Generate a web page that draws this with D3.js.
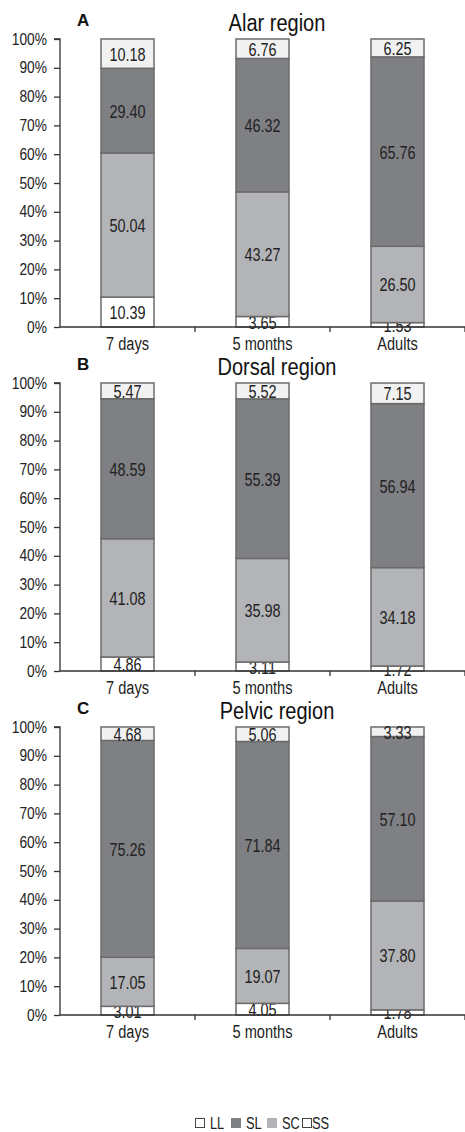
<!DOCTYPE html>
<html lang="en">
<head>
<meta charset="utf-8">
<title>Stacked bars by region</title>
<script src="https://d3js.org/d3.v7.min.js"></script>
<style>
  body { margin: 0; background: #fff; }
  svg { font-family: "Liberation Sans", Arial, sans-serif; }
  .tick text { font-size: 16px; fill: #222; }
  .val { font-size: 19px; fill: #222; text-anchor: middle; }
</style>
</head>
<body>
<svg id="chart" width="465" height="1132"></svg>
<script>
// categories and series
const ages = ["7 days", "5 months", "Adults"];
const keys = ["LL", "SC", "SL", "SS"]; // bottom to top
const panels = ["A", "B", "C"];
const titles = ["Alar region", "Dorsal region", "Pelvic region"];

// values per panel: [LL, SC, SL, SS] for each age
const alar = [[10.39, 50.04, 29.40, 10.18], [3.65, 43.27, 46.32, 6.76], [1.53, 26.50, 65.76, 6.25]];
const dorsal = [[4.86, 41.08, 48.59, 5.47], [3.11, 35.98, 55.39, 5.52], [1.72, 34.18, 56.94, 7.15]];
const pelvic = [[3.01, 17.05, 75.26, 4.68], [4.05, 19.07, 71.84, 5.06], [1.78, 37.80, 57.10, 3.33]];
const regions = [alar, dorsal, pelvic];

const yTicks = [0, 10, 20, 30, 40, 50, 60, 70, 80, 90, 100];

const fill = { LL: "#ffffff", SC: "#b3b4b7", SL: "#7f8083", SS: "#f1f1f1" };
const legendOrder = ["LL", "SL", "SC", "SS"];

const svg = d3.select("#chart");
const left = 60, right = 465, plotH = 288;

const x = d3.scaleBand().domain(ages).range([left, right]).paddingInner(0).paddingOuter(0);
const barW = 53;

// the original type is a narrow face: squeeze glyphs horizontally
function squeeze(sel, k) {
  sel.each(function() {
    const w = this.getComputedTextLength();
    d3.select(this).attr("textLength", w * k).attr("lengthAdjust", "spacingAndGlyphs");
  });
}

regions.forEach((data, i) => {
  const top = 39 + i * 344;
  const y = d3.scaleLinear().domain([0, 100]).range([top + plotH, top]);
  const g = svg.append("g");

  // title + panel letter
  g.append("text").attr("x", 277).attr("y", top - 8)
    .attr("text-anchor", "middle").style("font-size", "23px").style("fill", "#111")
    .text(titles[i]).call(squeeze, 0.87);
  g.append("text").attr("x", 77).attr("y", top - 13)
    .style("font-size", "17px").style("font-weight", "bold").style("fill", "#111")
    .text(panels[i]);

  // stack
  const rows = data.map((v, j) => {
    const o = { age: ages[j] };
    keys.forEach((k, n) => o[k] = v[n]);
    return o;
  });
  const series = d3.stack().keys(keys)(rows);

  series.forEach(s => {
    g.selectAll(null).data(s).enter().append("rect")
      .attr("x", d => x(d.data.age) + x.bandwidth() / 2 - barW / 2)
      .attr("y", d => y(Math.min(d[1], 100)))
      .attr("width", barW)
      .attr("height", d => y(d[0]) - y(Math.min(d[1], 100)))
      .style("fill", fill[s.key])
      .style("stroke", "#6b6b6b")
      .style("stroke-width", 1.5);

    g.selectAll(null).data(s).enter().append("text")
      .attr("class", "val")
      .attr("x", d => x(d.data.age) + x.bandwidth() / 2)
      .attr("y", d => (y(d[0]) + y(Math.min(d[1], 100))) / 2 + 7)
      .text(d => d.data[s.key].toFixed(2))
      .call(squeeze, 0.76);
  });

  // y axis
  const yAxis = d3.axisLeft(y).tickValues(yTicks).tickFormat(d => d + "%").tickSize(6).tickPadding(7);
  const ya = g.append("g").attr("transform", `translate(${left},0)`).call(yAxis);
  ya.select(".domain").attr("stroke", "#333").attr("stroke-width", 1.3).attr("d", `M-6,${top}H0V${top + plotH}`);
  ya.selectAll(".tick line").attr("stroke", "#333").attr("stroke-width", 1.3);
  ya.selectAll(".tick text").call(squeeze, 0.86);

  // x axis
  const xAxis = d3.axisBottom(x).tickSize(0).tickPadding(10);
  const xa = g.append("g").attr("transform", `translate(0,${top + plotH})`).call(xAxis);
  xa.select(".domain").attr("stroke", "#333").attr("stroke-width", 1.3).attr("d", `M${left},0H${right}`);
  xa.selectAll(".tick text").style("font-size", "18px").call(squeeze, 0.81);
  g.selectAll(null).data(ages).enter().append("line")
    .attr("x1", d => x(d) + x.bandwidth()).attr("x2", d => x(d) + x.bandwidth())
    .attr("y1", top + plotH).attr("y2", top + plotH + 5)
    .attr("stroke", "#333").attr("stroke-width", 1.3);
});

// legend
const lg = svg.append("g").attr("transform", "translate(195,1118)");
const lx = [0, 36, 72, 107];
legendOrder.forEach((k, n) => {
  lg.append("rect").attr("x", lx[n] + 0.5).attr("y", 0.5).attr("width", 9).attr("height", 9)
    .style("fill", fill[k] === "#f1f1f1" ? "#fff" : fill[k])
    .style("stroke", k === "SL" || k === "SC" ? fill[k] : "#444").style("stroke-width", 1);
  lg.append("text").attr("x", lx[n] + (n === 3 ? 10 : 15)).attr("y", 11)
    .style("font-size", "16px").style("fill", "#222").text(k).call(squeeze, 0.8);
});
</script>
</body>
</html>
